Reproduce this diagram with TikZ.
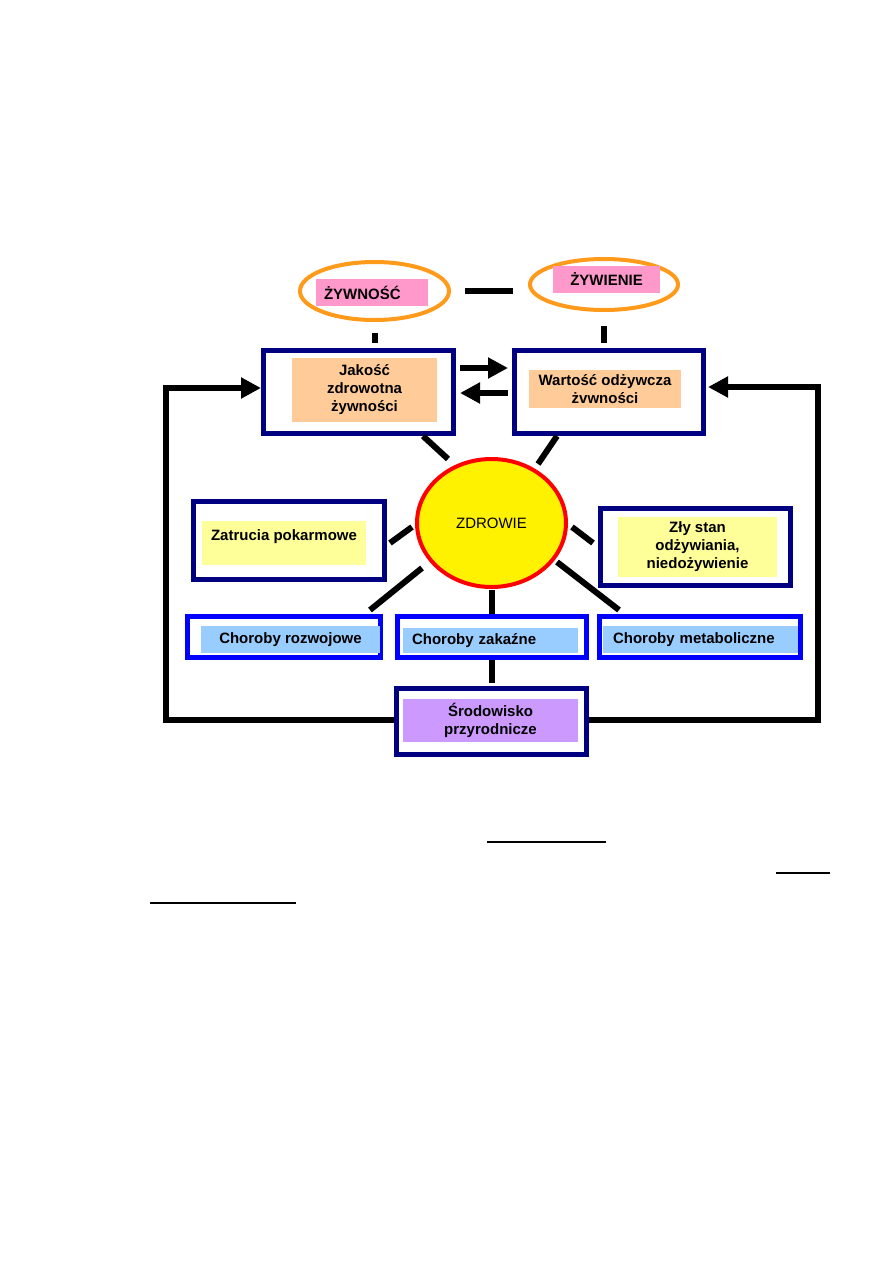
\documentclass[tikz,border=0pt]{standalone}
\usepackage{fontspec}
\setmainfont{Liberation Sans}
\usepackage{xcolor}
\usetikzlibrary{arrows.meta,shapes.geometric}
\definecolor{navy}{HTML}{000080}
\definecolor{vivid}{HTML}{0000FF}
\definecolor{amber}{HTML}{FF9A1A}
\definecolor{pinkc}{HTML}{FF99CC}
\definecolor{peach}{HTML}{FFCC99}
\definecolor{lemon}{HTML}{FFFF99}
\definecolor{sky}{HTML}{99CCFF}
\definecolor{lilac}{HTML}{CC99FF}

\begin{document}
\begin{tikzpicture}[
    x=1pt, y=-1pt,
    >={Triangle[length=20pt,width=20pt]},
    every node/.style={font=\fontsize{15}{18}\selectfont},
    ring/.style={ellipse, draw=amber, line width=4pt, inner sep=0pt},
    frame/.style={draw=navy, line width=5pt, fill=white, inner sep=0pt},
    blueframe/.style={draw=vivid, line width=5pt, fill=white, inner sep=0pt},
    tag/.style={inner sep=0pt, align=center, font=\fontsize{15}{18}\selectfont\bfseries},
    stub/.style={line width=6pt},
    flow/.style={->, line width=6pt},
    feedback/.style={->, line width=6pt}
  ]
    \useasboundingbox (0,0) rectangle (893,1263);
    % Top row
    \node[ring, minimum width=149pt, minimum height=58pt] (zywnosc) at (374.5,291) {};
    \node[tag, fill=pinkc, minimum height=27pt, text width=96pt, align=left, inner xsep=8pt] (zywnoscin) at (372,292.5) {ŻYWNOŚĆ};
    \node[ring, minimum width=148pt, minimum height=51pt] (zywienie) at (604,284.5) {};
    \node[tag, fill=pinkc, minimum width=107pt, minimum height=27pt] (zywieniein) at (606.5,279.5) {ŻYWIENIE};
    \node[frame, minimum width=190pt, minimum height=83pt] (jakosc) at (358.5,392) {};
    \node[tag, fill=peach, minimum width=145pt, minimum height=64pt] (jakoscin) at (364.5,389.5) {Jakość\\zdrowotna\\żywności};
    \node[frame, minimum width=189pt, minimum height=83pt] (wartosc) at (609,392) {};
    \node[tag, fill=peach, minimum width=152pt, minimum height=38pt] (wartoscin) at (605,389) {Wartość odżywcza\\żvwności};
    % Middle
    \node[ellipse, draw=red, line width=4pt, fill=yellow, minimum width=149pt, minimum height=128pt, inner sep=0pt] (zdrowie) at (491.5,523) {ZDROWIE};
    \node[frame, minimum width=191pt, minimum height=78pt] (zatrucia) at (289,540.5) {};
    \node[tag, fill=lemon, minimum width=164pt, text height=19.5pt, text depth=24.5pt] (zatruciain) at (284,543) {Zatrucia pokarmowe};
    \node[frame, minimum width=190pt, minimum height=77pt] (zly) at (695.5,547) {};
    \node[tag, fill=lemon, minimum width=159pt, minimum height=60pt] (zlyin) at (697.5,547) {Zły stan\\odżywiania,\\niedożywienie};
    % Diseases
    \node[blueframe, minimum width=193pt, minimum height=41pt] (rozwoj) at (284,637) {};
    \node[tag, fill=sky, minimum width=179pt, minimum height=27pt] (rozwojin) at (290.5,639.5) {Choroby rozwojowe};
    \node[blueframe, minimum width=189pt, minimum height=41pt] (zakazne) at (492,637) {};
    \node[tag, fill=sky, minimum height=25pt, text width=157pt, align=left, inner xsep=9pt] (zakaznein) at (490.5,640.5) {Choroby zakaźne};
    \node[blueframe, minimum width=201pt, minimum height=41pt] (metab) at (700,637) {};
    \node[tag, fill=sky, minimum height=27pt, text width=175pt, align=left, inner xsep=10pt] (metabin) at (700.5,639.5) {Choroby metaboliczne};
    % Bottom
    \node[frame, minimum width=190pt, minimum height=66pt] (srodowisko) at (491.5,721.5) {};
    \node[tag, fill=lilac, minimum width=175pt, minimum height=43pt] (srodowiskoin) at (490.5,720.5) {Środowisko\\przyrodnicze};
    % Bars
    \draw[stub, shorten <=14pt, shorten >=15pt] (zywnosc.east) -- (zywnosc.east -| zywienie.west);
    \draw[stub, shorten <=11pt, shorten >=5pt] (zywnosc.south) -- (zywnosc.south |- jakosc.north);
    \draw[stub, shorten <=14pt, shorten >=5pt] (zywienie.south) -- (zywienie.south |- wartosc.north);
    \draw[stub] ([xshift=64.5pt]jakosc.south) -- ++(25,23);
    \draw[stub] ([xshift=-52pt]wartosc.south) -- ++(-19,28);
    \draw[stub] ([xshift=3pt,yshift=-2.5pt]zatrucia.east) -- ++(22,-16);
    \draw[stub] ([xshift=-5pt,yshift=4pt]zly.west) -- ++(-21,-16);
    \draw[stub] ([xshift=86pt,yshift=4pt]rozwoj.north) -- ++(52,-42);
    \draw[stub] ([xshift=-81pt,yshift=4pt]metab.north) -- ++(-62,-48);
    \draw[stub, shorten <=1pt] (zdrowie.south) -- (zdrowie.south |- zakazne.north);
    \draw[stub, shorten >=3pt] (zakazne.south) -- (zakazne.south |- srodowisko.north);
    % Arrows
    \draw[flow, shorten <=4pt, shorten >=4pt] ([yshift=24pt]jakosc.east) -- ([yshift=24pt]jakosc.east -| wartosc.west);
    \draw[flow, shorten <=4pt, shorten >=4pt] ([yshift=-1pt]wartosc.west) -- ([yshift=-1pt]wartosc.west -| jakosc.east);
    \draw[feedback] ([yshift=2pt]srodowisko.west) -- ++(-228,0) |- ([yshift=4pt]jakosc.west);
    \draw[feedback, shorten >=2pt] ([yshift=2pt]srodowisko.east) -- ++(229,0) |- ([yshift=5pt]wartosc.east);
    % Underlines
    \draw[line width=1.2pt] (487,842) -- (606,842);
    \draw[line width=1.2pt] (776,873) -- (830,873);
    \draw[line width=1.2pt] (150,903) -- (296,903);
  \end{tikzpicture}
\end{document}
